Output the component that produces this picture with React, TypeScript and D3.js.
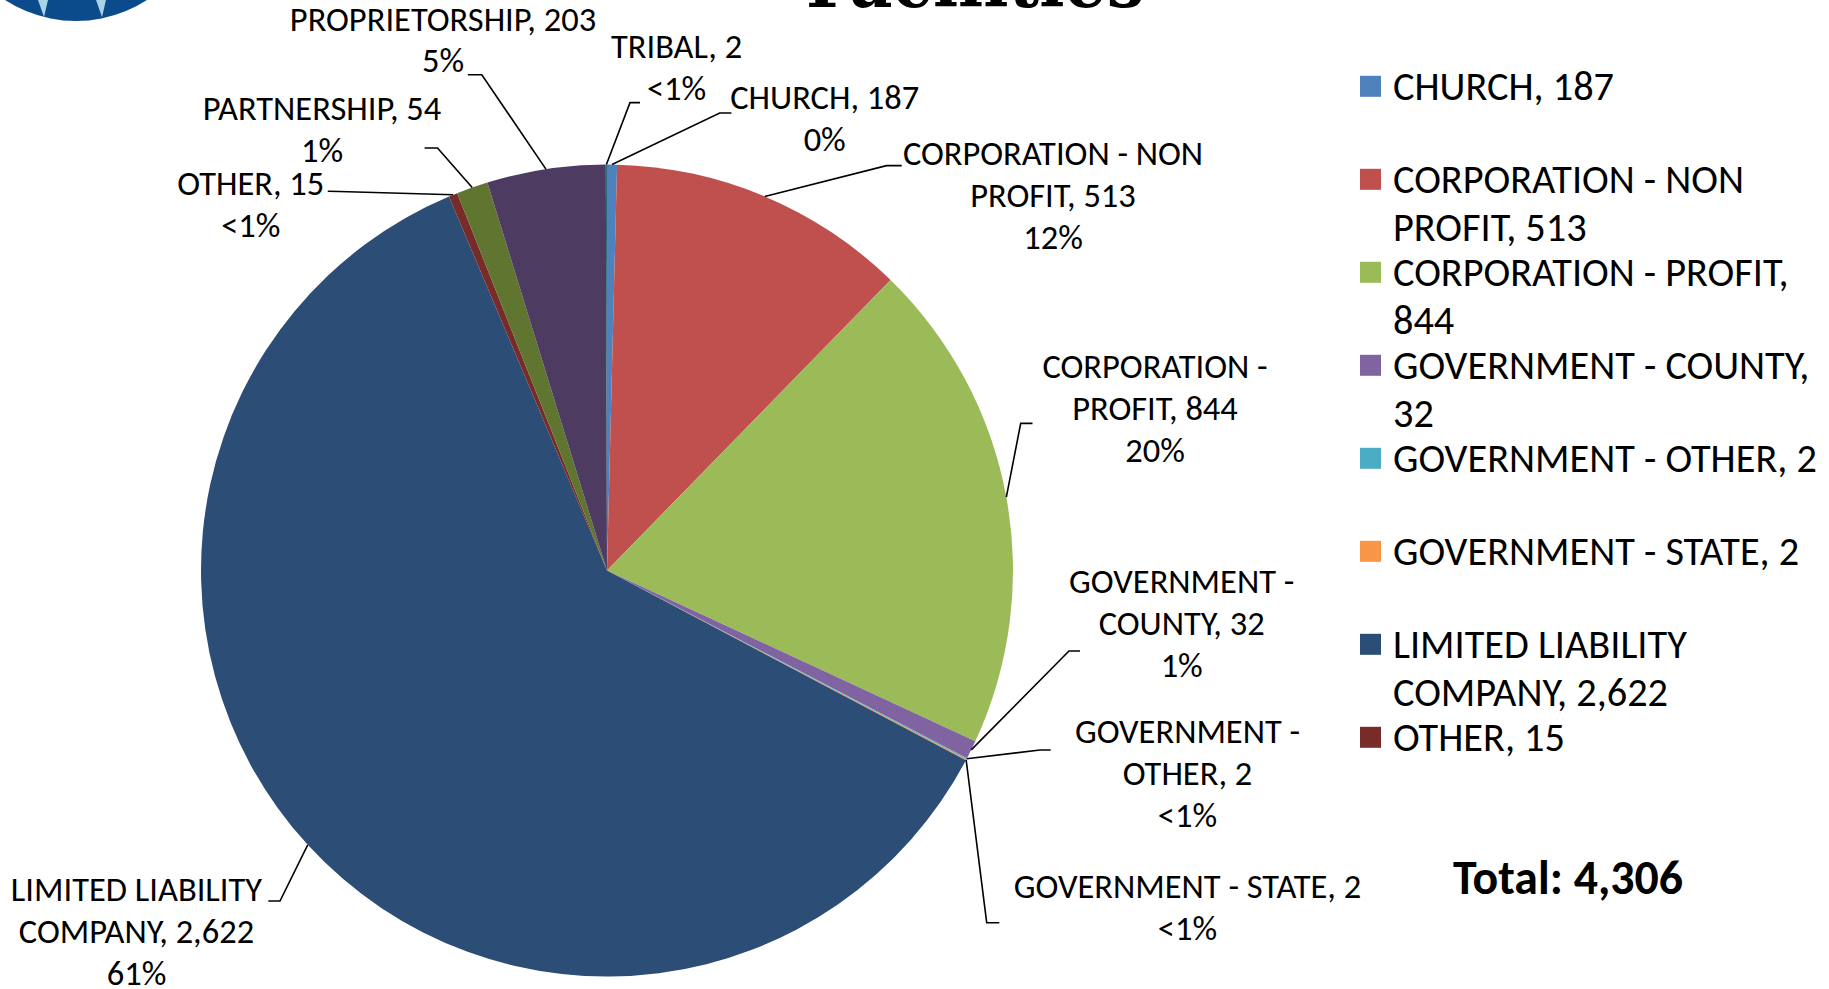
import React, { useLayoutEffect, useRef, useState } from 'react';
import * as d3 from 'd3';

// ---------- data ----------
const categories = [
  'CHURCH',
  'CORPORATION - NON PROFIT',
  'CORPORATION - PROFIT',
  'GOVERNMENT - COUNTY',
  'GOVERNMENT - OTHER',
  'GOVERNMENT - STATE',
  'LIMITED LIABILITY COMPANY',
  'OTHER',
  'PARTNERSHIP',
  'PROPRIETORSHIP',
  'TRIBAL',
];
// slice sizes as drawn (church slice is drawn thin; total 4,306)
const sliceValues = [17, 513, 844, 32, 2, 2, 2622, 15, 54, 203, 2];
// values as printed in the labels
const labelValues = ['187', '513', '844', '32', '2', '2', '2,622', '15', '54', '203', '2'];
const percentLabels = ['0%', '12%', '20%', '1%', '<1%', '<1%', '61%', '<1%', '1%', '5%', '<1%'];
const sliceColors = [
  '#4F81BD', '#C0504D', '#9BBB59', '#8064A2', '#4BACC6', '#F79646',
  '#2C4D75', '#772C2A', '#5F7530', '#4D3B62', '#276A7C',
];
// wrapped data-label name lines
const labelNameLines = [
  ['CHURCH, 187'],
  ['CORPORATION - NON', 'PROFIT, 513'],
  ['CORPORATION -', 'PROFIT, 844'],
  ['GOVERNMENT -', 'COUNTY, 32'],
  ['GOVERNMENT -', 'OTHER, 2'],
  ['GOVERNMENT - STATE, 2'],
  ['LIMITED LIABILITY', 'COMPANY, 2,622'],
  ['OTHER, 15'],
  ['PARTNERSHIP, 54'],
  ['PROPRIETORSHIP, 203'],
  ['TRIBAL, 2'],
];
// wrapped legend lines (legend shows first 8 entries)
const legendLines = [
  ['CHURCH, 187'],
  ['CORPORATION - NON', 'PROFIT, 513'],
  ['CORPORATION - PROFIT,', '844'],
  ['GOVERNMENT - COUNTY,', '32'],
  ['GOVERNMENT - OTHER, 2'],
  ['GOVERNMENT - STATE, 2'],
  ['LIMITED LIABILITY', 'COMPANY, 2,622'],
  ['OTHER, 15'],
];
const legendCount = 8;
const totalLabel = 'Total: 4,306';
const titleText = 'Facilities';

// ---------- layout ----------
const W = 1829;
const H = 989;
const CX = 607;
const CY = 570.5;
const R = 406;
const LABEL_LH = 42;
// per label: text center x, first line center y, leader stub [x1, y1, x2, y2]
const labelLayout: { x: number; y: number; stub: [number, number, number, number] }[] = [
  { x: 824.7, y: 98, stub: [731.4, 113, 719.7, 113] },
  { x: 1053, y: 154, stub: [901.7, 165.6, 886.5, 165.6] },
  { x: 1155, y: 367.5, stub: [1032.5, 423.4, 1020.7, 423.4] },
  { x: 1181.7, y: 582, stub: [1080, 651, 1069, 651] },
  { x: 1187.5, y: 732.6, stub: [1050.7, 750, 1040, 750] },
  { x: 1187.5, y: 887.7, stub: [999.3, 922.7, 986.7, 922.7] },
  { x: 136.5, y: 890, stub: [268.3, 901, 280, 901] },
  { x: 250.8, y: 184.3, stub: [327.8, 191.3, 339, 191.5] },
  { x: 322, y: 109.6, stub: [424.6, 148, 437.5, 148] },
  { x: 443, y: 19.8, stub: [467.8, 74.7, 481.8, 74.7] },
  { x: 676.6, y: 47.8, stub: [640, 102.6, 630, 102.6] },
];
const LEG_SQ_X = 1360;
const LEG_SQ = 21;
const LEG_TX = 1393;
const LEG_Y0 = 86.3;
const LEG_STEP = 93;
const LEG_LH = 47.8;

const FONT = "Carlito, Lato, 'Open Sans', sans-serif";

export default function App() {
  const [sizes, setSizes] = useState({ label: 34, legend: 40, total: 48 });
  const measureRef = useRef<SVGGElement>(null);

  useLayoutEffect(() => {
    const g = measureRef.current;
    if (!g) return;
    const t = g.querySelectorAll('text');
    const w0 = (t[0] as SVGTextElement).getComputedTextLength();
    const w1 = (t[1] as SVGTextElement).getComputedTextLength();
    const w2 = (t[2] as SVGTextElement).getComputedTextLength();
    if (w0 > 0 && w1 > 0 && w2 > 0) {
      setSizes({
        label: (100 * 347.6) / w0,
        legend: (100 * 424) / w1,
        total: (100 * 230) / w2,
      });
    }
  }, []);

  const pie = d3
    .pie<number>()
    .sort(null)
    .value((d) => d)
    .startAngle(0)
    .endAngle(2 * Math.PI);
  const arcs = pie(sliceValues);
  const arcGen = d3.arc<d3.PieArcDatum<number>>().innerRadius(0).outerRadius(R);

  const edgePoint = (d: d3.PieArcDatum<number>) => {
    const a = (d.startAngle + d.endAngle) / 2;
    return [CX + R * Math.sin(a), CY - R * Math.cos(a)];
  };

  const lbOff = sizes.label * 0.31;
  const lgOff = sizes.legend * 0.34;

  return (
    <svg
      width={W}
      height={H}
      viewBox={`0 0 ${W} ${H}`}
      style={{ position: 'absolute', left: 0, top: 0, display: 'block', background: '#fff' }}
      fontFamily={FONT}
    >
      {/* measuring texts */}
      <g ref={measureRef} visibility="hidden">
        <text fontSize={100} fontFamily={FONT}>GOVERNMENT - STATE, 2</text>
        <text fontSize={100} fontFamily={FONT}>GOVERNMENT - OTHER, 2</text>
        <text fontSize={100} fontFamily={FONT} fontWeight="bold">{totalLabel}</text>
      </g>

      {/* logo (cropped) */}
      <g>
        <circle cx={76} cy={-109.5} r={130.5} fill="#0B4A8B" />
        <polygon points="38,0 48,0 44,17" fill="#A6D4E8" />
        <polygon points="96,0 106,0 102,17" fill="#A6D4E8" />
      </g>

      {/* title (cropped) */}
      <text
        x={806}
        y={7}
        fontFamily="'DejaVu Serif', 'Liberation Serif', serif"
        fontWeight="bold"
        fontSize={72}
        textLength={338}
        lengthAdjust="spacingAndGlyphs"
        fill="#000"
      >
        {titleText}
      </text>

      {/* pie */}
      <g transform={`translate(${CX},${CY})`}>
        {arcs.map((d, i) => (
          <path key={categories[i]} d={arcGen(d) || ''} fill={sliceColors[i]} />
        ))}
      </g>

      {/* leader lines */}
      <g fill="none" stroke="#000" strokeWidth={1.6}>
        {arcs.map((d, i) => {
          const [px, py] = edgePoint(d);
          const s = labelLayout[i].stub;
          return (
            <polyline
              key={'ll' + i}
              points={`${s[0]},${s[1]} ${s[2]},${s[3]} ${px},${py}`}
            />
          );
        })}
      </g>

      {/* data labels */}
      <g fontSize={sizes.label} fill="#000" textAnchor="middle">
        {categories.map((c, i) => {
          const lines = [...labelNameLines[i], percentLabels[i]];
          const L = labelLayout[i];
          return (
            <g key={'lb' + c}>
              {lines.map((ln, j) => (
                <text key={j} x={L.x} y={L.y + j * LABEL_LH + lbOff}>
                  {ln}
                </text>
              ))}
            </g>
          );
        })}
      </g>

      {/* legend */}
      <g fontSize={sizes.legend} fill="#000">
        {legendLines.slice(0, legendCount).map((lines, i) => {
          const y0 = LEG_Y0 + i * LEG_STEP;
          return (
            <g key={'lg' + i}>
              <rect
                x={LEG_SQ_X}
                y={y0 - LEG_SQ / 2}
                width={LEG_SQ}
                height={LEG_SQ}
                fill={sliceColors[i]}
              />
              {lines.map((ln, j) => (
                <text key={j} x={LEG_TX} y={y0 + j * LEG_LH + lgOff}>
                  {ln}
                </text>
              ))}
            </g>
          );
        })}
      </g>

      {/* total */}
      <text
        x={1568}
        y={877 + sizes.total * 0.35}
        textAnchor="middle"
        fontWeight="bold"
        fontSize={sizes.total}
        fill="#000"
      >
        {totalLabel}
      </text>
    </svg>
  );
}
